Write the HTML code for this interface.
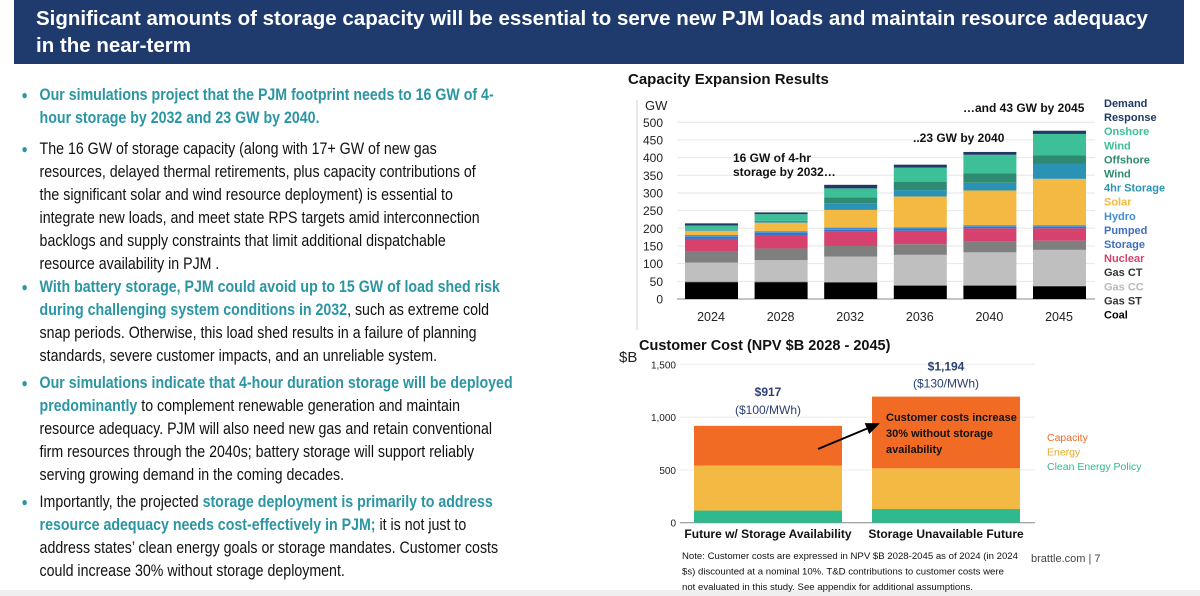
<!DOCTYPE html>
<html><head><meta charset="utf-8">
<style>
body{margin:0;width:1200px;height:596px;background:#fff;position:relative;overflow:hidden;font-family:"Liberation Sans",sans-serif}
#hdr{position:absolute;left:14px;top:0;width:1170px;height:64px;background:#1f3b6e;color:#fff;font-weight:bold;font-size:20.5px;line-height:27px;padding:5px 0 0 22px;box-sizing:border-box;white-space:nowrap}
#left{position:absolute;left:0;top:0;width:620px;height:596px;transform:scaleX(0.86);transform-origin:0 0}
.ln{position:absolute;left:46px;white-space:nowrap;font-size:16.5px;color:#111;line-height:20px}
.t{color:#2a95a3;font-weight:bold}
.b{position:absolute;left:25px;font-size:12px;line-height:20px;color:#2a95a3}
#foot{position:absolute;left:0;top:590px;width:1200px;height:6px;background:#efefef}
svg{position:absolute;left:0;top:0}
</style></head><body>
<div id="hdr">Significant amounts of storage capacity will be essential to serve new PJM loads and maintain resource adequacy<br>in the near-term</div>
<div id="left">
<span class="b" style="top:85px">●</span>
<div class="ln t" style="top:85px">Our simulations project that the PJM footprint needs to 16 GW of 4-</div>
<div class="ln t" style="top:108px">hour storage by 2032 and 23 GW by 2040.</div>
<span class="b" style="top:139px">●</span>
<div class="ln" style="top:139px">The 16 GW of storage capacity (along with 17+ GW of new gas</div>
<div class="ln" style="top:162px">resources, delayed thermal retirements, plus capacity contributions of</div>
<div class="ln" style="top:185px">the significant solar and wind resource deployment) is essential to</div>
<div class="ln" style="top:208px">integrate new loads, and meet state RPS targets amid interconnection</div>
<div class="ln" style="top:231px">backlogs and supply constraints that limit additional dispatchable</div>
<div class="ln" style="top:254px">resource availability in PJM .</div>
<span class="b" style="top:277px">●</span>
<div class="ln t" style="top:277px">With battery storage, PJM could avoid up to 15 GW of load shed risk</div>
<div class="ln" style="top:300px"><span class="t">during challenging system conditions in 2032</span>, such as extreme cold</div>
<div class="ln" style="top:323px">snap periods. Otherwise, this load shed results in a failure of planning</div>
<div class="ln" style="top:346px">standards, severe customer impacts, and an unreliable system.</div>
<span class="b" style="top:373px">●</span>
<div class="ln t" style="top:373px">Our simulations indicate that 4-hour duration storage will be deployed</div>
<div class="ln" style="top:396px"><span class="t">predominantly</span> to complement renewable generation and maintain</div>
<div class="ln" style="top:419px">resource adequacy. PJM will also need new gas and retain conventional</div>
<div class="ln" style="top:442px">firm resources through the 2040s; battery storage will support reliably</div>
<div class="ln" style="top:465px">serving growing demand in the coming decades.</div>
<span class="b" style="top:492px">●</span>
<div class="ln" style="top:492px">Importantly, the projected <span class="t">storage deployment is primarily to address</span></div>
<div class="ln" style="top:515px"><span class="t">resource adequacy needs cost-effectively in PJM;</span> it is not just to</div>
<div class="ln" style="top:538px">address states’ clean energy goals or storage mandates. Customer costs</div>
<div class="ln" style="top:561px">could increase 30% without storage deployment.</div>
</div>
<div id="foot"></div>
<svg id="c" width="1200" height="596"></svg>
<script>
const years=["2024","2028","2032","2036","2040","2045"];
const seriesNames=["Coal","Gas ST","Gas CC","Gas CT","Nuclear","Pumped Storage","Hydro","Solar","4hr Storage","Offshore Wind","Onshore Wind","Demand Response"];
const coal=[47,47,46,37,37,35];
const gasST=[2,2,2,2,2,2];
const gasCC=[54,61,72,86,93,102];
const gasCT=[31,33,30,30,30,26];
const nuclear=[36,38,40,38,38,35];
const pumped=[6,6,6,5,4,4];
const hydro=[5,5,6,5,5,5];
const solar=[12,24,50,87,98,131];
const storage4=[2,3,19,18,22,42];
const offshore=[0,2,16,24,27,24];
const onshore=[13,19,26,40,52,61];
const demandResp=[6,5,10,8,8,9];
const gwTicks=[0,50,100,150,200,250,300,350,400,450,500];
const costCats=["Future w/ Storage Availability","Storage Unavailable Future"];
const costClean=[115,130];
const costEnergy=[425,385];
const costCapacity=[377,679];
const costTotals=["$917","$1,194"];
const costRates=["($100/MWh)","($130/MWh)"];
const costTicks=[0,500,1000,1500];
const costTickLabels=["0","500","1,000","1,500"];

const NS="http://www.w3.org/2000/svg";
const svg=document.getElementById('c');
function mk(tag,attrs,parent){const e=document.createElementNS(NS,tag);for(const k in attrs)e.setAttribute(k,attrs[k]);(parent||svg).appendChild(e);return e;}
function txt(s,attrs){const e=mk('text',Object.assign({'font-family':'Liberation Sans, sans-serif'},attrs));e.textContent=s;return e;}

// Chart 1
const y1=v=>299-v*0.3535;
const x1=i=>711+i*69.6;
const series=[coal,gasST,gasCC,gasCT,nuclear,pumped,hydro,solar,storage4,offshore,onshore,demandResp];
const cols=["#000000","#3a3a3a","#bfbfbf","#7f7f7f","#d6416d","#3f6fc0","#3f8fd6","#f4b942","#2a93b5","#2e8a70","#3dbf98","#1f3864"];
mk('line',{x1:637,y1:100,x2:637,y2:330,stroke:'#d0d0d0'});
txt("Capacity Expansion Results",{x:628,y:84,'font-size':15,'font-weight':'bold',fill:'#111'});
txt("GW",{x:645,y:110,'font-size':13,fill:'#222'});
gwTicks.forEach(t=>{
 const g=mk('line',{x1:677,x2:1095,y1:y1(t),y2:y1(t),stroke:t?'#e6e6e6':'#888'});
 
 const l=txt(String(t),{x:663,y:y1(t)+4.5,'font-size':12,'text-anchor':'end',fill:'#222'});
 
});
years.forEach((yr,i)=>{
 let base=0;
 series.forEach((s,k)=>{
  const r=mk('rect',{x:x1(i)-26,y:y1(base+s[i]),width:53,height:Math.max(0,y1(base)-y1(base+s[i])),fill:cols[k]});
  
  
  base+=s[i];
 });
 const l=txt(yr,{x:x1(i),y:321,'font-size':12.5,'text-anchor':'middle',fill:'#222'});
 
});
txt("16 GW of 4-hr",{x:733,y:162,'font-size':12,'font-weight':'bold',fill:'#111'});
txt("storage by 2032…",{x:733,y:176,'font-size':12,'font-weight':'bold',fill:'#111'});
txt("..23 GW by 2040",{x:913,y:142,'font-size':12,'font-weight':'bold',fill:'#111'});
txt("…and 43 GW by 2045",{x:963,y:112,'font-size':12,'font-weight':'bold',fill:'#111'});
const leg=[["Demand","#1f3864"],["Response","#1f3864"],["Onshore","#3dbf98"],["Wind","#3dbf98"],["Offshore","#2e8a70"],["Wind","#2e8a70"],["4hr Storage","#2a93b5"],["Solar","#f4b942"],["Hydro","#3f8fd6"],["Pumped","#3f6fc0"],["Storage","#3f6fc0"],["Nuclear","#d6416d"],["Gas CT","#333"],["Gas CC","#bbb"],["Gas ST","#333"],["Coal","#000"]];
leg.forEach((l,i)=>{const e=txt(l[0],{x:1104,y:107+i*14.1,'font-size':11,'font-weight':'bold',fill:l[1]});});

// Chart 2
const y2=v=>522.7-v*0.1056;
const bx=[694,872];
txt("Customer Cost (NPV $B 2028 - 2045)",{x:639,y:350,'font-size':14.5,'font-weight':'bold',fill:'#111'});
txt("$B",{x:619,y:362,'font-size':15,fill:'#222'});
costTicks.forEach((t,i)=>{
 const g=mk('line',{x1:680,x2:1035,y1:y2(t),y2:y2(t),stroke:t?'#ececec':'#888'});
 
 const l=txt(costTickLabels[i],{x:676,y:y2(t)+4,'font-size':10,'text-anchor':'end',fill:'#222'});
 
});
costCats.forEach((c,i)=>{
 let base=0;
 [[costClean,'#2fb98f'],[costEnergy,'#f4b942'],[costCapacity,'#f26b25']].forEach(([s,col])=>{
  const r=mk('rect',{x:bx[i],y:y2(base+s[i]),width:148,height:y2(base)-y2(base+s[i]),fill:col});
  
  
  base+=s[i];
 });
 const cx=bx[i]+74;
 const tl=txt(costTotals[i],{x:cx,y:y2(base)-(i?26:30),'font-size':12,'font-weight':'bold','text-anchor':'middle',fill:'#2b3f73'});
 
 txt(costRates[i],{x:cx,y:y2(base)-(i?9:12),'font-size':12,'text-anchor':'middle',fill:'#2b3f73'});
 const cl=txt(c,{x:cx,y:538,'font-size':12,'font-weight':'bold','text-anchor':'middle',fill:'#111'});
 
});
mk('defs',{}).innerHTML='<marker id="ah" markerWidth="8" markerHeight="8" refX="6" refY="3" orient="auto"><path d="M0,0 L7,3 L0,6 z" fill="#000"/></marker>';
mk('line',{x1:818,y1:449,x2:878,y2:424,stroke:'#000','stroke-width':2,'marker-end':'url(#ah)'});
["Customer costs increase","30% without storage","availability"].forEach((s,i)=>txt(s,{x:886,y:421+i*16,'font-size':11,'font-weight':'bold',fill:'#111'}));
[["Capacity","#f26b25"],["Energy","#e8a92a"],["Clean Energy Policy","#2fb98f"]].forEach((l,i)=>{const e=txt(l[0],{x:1047,y:441+i*14.5,'font-size':10.5,fill:l[1]});});
["Note: Customer costs are expressed in NPV $B 2028-2045 as of 2024 (in 2024","$s) discounted at a nominal 10%. T&D contributions to customer costs were","not evaluated in this study. See appendix for additional assumptions."].forEach((s,i)=>txt(s,{x:682,y:559+i*15.5,'font-size':9.6,fill:'#111'}));
txt("brattle.com | 7",{x:1031,y:562,'font-size':11,fill:'#444'});
</script>
</body></html>
